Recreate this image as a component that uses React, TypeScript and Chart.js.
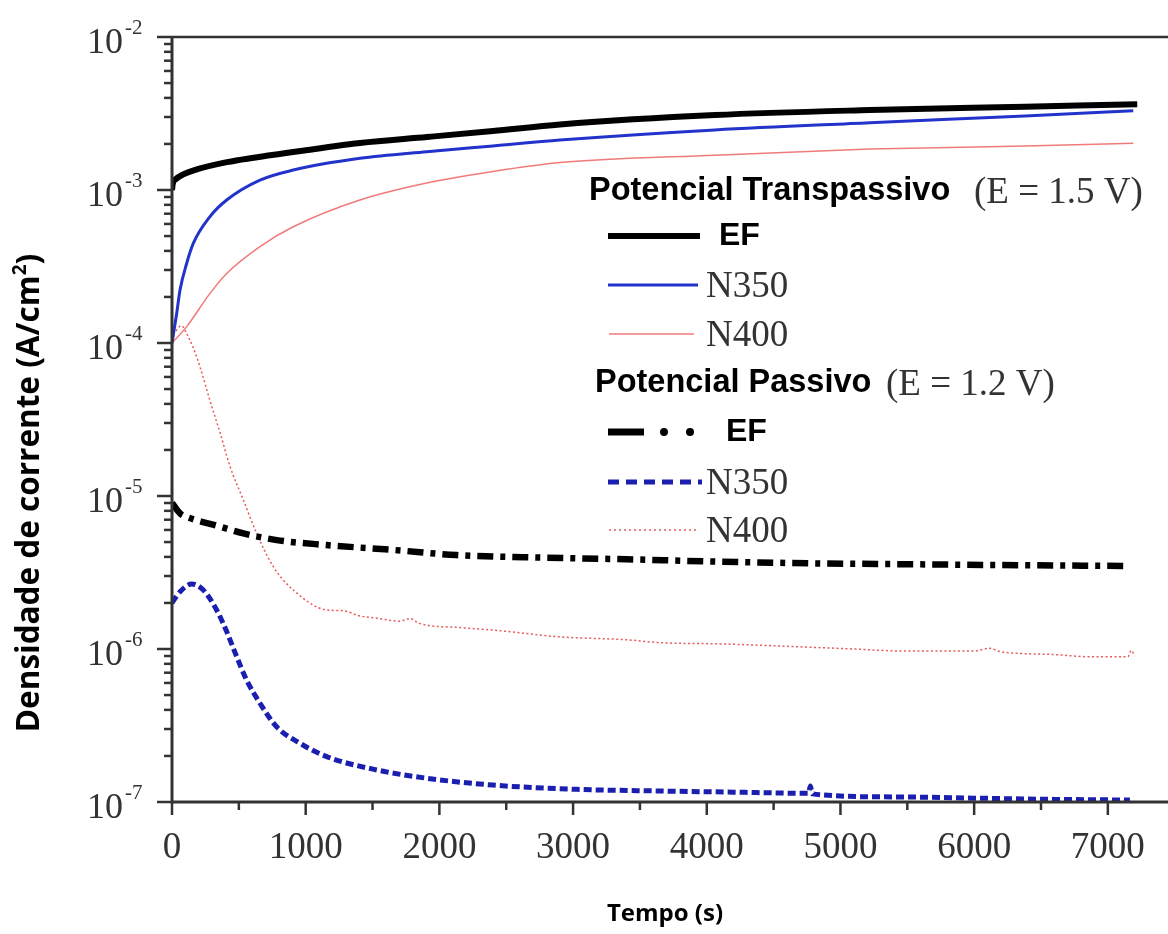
import React, { useEffect, useRef } from "react";
import { Chart, registerables } from "chart.js";

Chart.register(...registerables);

// ---- Data (time in s, current density in A/cm²) ----
const tEF_T = [0, 6, 30, 80, 157, 411, 905, 1406, 1907, 2400, 2902, 4061, 5220, 6380, 7220];
const iEF_T = [1.0e-3, 1.1e-3, 1.18e-3, 1.26e-3, 1.34e-3, 1.52e-3, 1.77e-3, 2.03e-3, 2.22e-3, 2.43e-3, 2.68e-3, 3.09e-3, 3.33e-3, 3.5e-3, 3.63e-3];

const tN350_T = [0, 35, 60, 110, 160, 284, 409, 658, 907, 1406, 1905, 2400, 2902, 4061, 5220, 6380, 7190];
const iN350_T = [1.0e-4, 1.56e-4, 2.22e-4, 3.32e-4, 4.49e-4, 6.7e-4, 8.6e-4, 1.16e-3, 1.35e-3, 1.61e-3, 1.78e-3, 1.94e-3, 2.12e-3, 2.47e-3, 2.75e-3, 3.05e-3, 3.3e-3];

const tN400_T = [0, 110, 284, 409, 658, 907, 1406, 1905, 2400, 2902, 4061, 5220, 6380, 7190];
const iN400_T = [1.0e-4, 1.28e-4, 2.11e-4, 2.85e-4, 4.27e-4, 5.75e-4, 8.6e-4, 1.11e-3, 1.32e-3, 1.51e-3, 1.69e-3, 1.85e-3, 1.94e-3, 2.02e-3];

const tEF_P = [0, 60, 110, 334, 534, 783, 1157, 1655, 2129, 2800, 3396, 4100, 4787, 5500, 6178, 7150];
const iEF_P = [9.0e-6, 7.7e-6, 7.3e-6, 6.4e-6, 5.7e-6, 5.15e-6, 4.78e-6, 4.44e-6, 4.11e-6, 3.95e-6, 3.86e-6, 3.72e-6, 3.63e-6, 3.58e-6, 3.54e-6, 3.49e-6];

const tN350_P = [0, 60, 147, 234, 334, 409, 484, 558, 658, 783, 957, 1157, 1531, 1905, 2400, 3027, 3650, 4200, 4760, 4775, 4790, 5400, 5990, 6600, 7165];
const iN350_P = [2.0e-6, 2.37e-6, 2.66e-6, 2.43e-6, 1.8e-6, 1.3e-6, 8.9e-7, 6.27e-7, 4.42e-7, 3.1e-7, 2.42e-7, 1.98e-7, 1.62e-7, 1.43e-7, 1.29e-7, 1.21e-7, 1.18e-7, 1.16e-7, 1.14e-7, 1.27e-7, 1.13e-7, 1.08e-7, 1.06e-7, 1.04e-7, 1.03e-7];

const tN400_P = [30, 70, 110, 157, 209, 284, 359, 434, 534, 633, 758, 907, 1157, 1280, 1400, 1531, 1700, 1780, 1850, 2154, 2400, 2902, 3396, 3650, 4100, 4615, 5100, 5483, 6000, 6110, 6200, 6600, 6872, 7150, 7175, 7200];
const iN400_P = [1.2e-4, 1.3e-4, 1.15e-4, 9.4e-5, 7.0e-5, 4.2e-5, 2.6e-5, 1.56e-5, 9.4e-6, 5.7e-6, 3.45e-6, 2.43e-6, 1.8e-6, 1.78e-6, 1.65e-6, 1.59e-6, 1.52e-6, 1.58e-6, 1.47e-6, 1.38e-6, 1.33e-6, 1.2e-6, 1.15e-6, 1.1e-6, 1.08e-6, 1.04e-6, 1.0e-6, 0.97e-6, 0.97e-6, 1.01e-6, 0.96e-6, 0.92e-6, 0.89e-6, 0.89e-6, 0.98e-6, 0.9e-6];

const xTickLabels = [0, 1000, 2000, 3000, 4000, 5000, 6000, 7000];
const xMinorTicks = [500, 1500, 2500, 3500, 4500, 5500, 6500];
const yTickExponents = [-7, -6, -5, -4, -3, -2];

const xTitle = "Tempo (s)";
const yTitleMain = "Densidade de corrente (A/cm";
const yTitleSup = "2";
const yTitleEnd = ")";

const header1Bold = "Potencial Transpassivo";
const header1Serif = "(E = 1.5 V)";
const header2Bold = "Potencial Passivo";
const header2Serif = "(E = 1.2 V)";

const BLACK = "#000000";
const BLUE = "#2233cc";
const BLUE_DASH = "#1a1fb0";
const RED = "#f07a7a";
const RED_DOT = "#e85a5a";
const AXIS = "#333333";
const SERIF = "'Liberation Serif', 'Times New Roman', serif";
const SANS = "'Liberation Sans', Arial, sans-serif";
const OPEN = "'Open Sans', 'Liberation Sans', sans-serif";

const pairs = (t: number[], v: number[]) => t.map((x, i) => ({ x, y: v[i] }));

function line(ctx: CanvasRenderingContext2D, x1: number, y1: number, x2: number, y2: number) {
  ctx.beginPath();
  ctx.moveTo(x1, y1);
  ctx.lineTo(x2, y2);
  ctx.stroke();
}

const axesPlugin = {
  id: "customAxes",
  afterDatasetsDraw(chart: any) {
    const { ctx, chartArea: a, scales } = chart;
    const xs = scales.x;
    const ys = scales.y;
    ctx.save();
    ctx.strokeStyle = AXIS;
    ctx.lineCap = "butt";
    // frame
    ctx.lineWidth = 2.5;
    line(ctx, a.left, a.top, a.right, a.top);
    ctx.lineWidth = 3;
    line(ctx, a.left, a.top - 1, a.left, a.bottom + 1.5);
    line(ctx, a.left, a.bottom, a.right, a.bottom);
    // y ticks
    ctx.lineWidth = 2.5;
    for (let e = -7; e <= -3; e++) {
      for (let m = 1; m <= 9; m++) {
        const py = ys.getPixelForValue(m * Math.pow(10, e));
        line(ctx, a.left - (m === 1 ? 15 : 8), py, a.left, py);
      }
    }
    const pTop = ys.getPixelForValue(1e-2);
    line(ctx, a.left - 15, pTop, a.left, pTop);
    // x ticks
    xTickLabels.forEach((t) => {
      const px = xs.getPixelForValue(t);
      line(ctx, px, a.bottom, px, a.bottom + 13);
    });
    xMinorTicks.forEach((t) => {
      const px = xs.getPixelForValue(t);
      line(ctx, px, a.bottom, px, a.bottom + 8);
    });
    // y tick labels
    ctx.fillStyle = AXIS;
    yTickExponents.forEach((e) => {
      const py = ys.getPixelForValue(Math.pow(10, e));
      ctx.font = `36px ${SERIF}`;
      ctx.textAlign = "right";
      ctx.textBaseline = "alphabetic";
      ctx.fillText("10", a.left - 49, py + 16);
      ctx.font = `21px ${SERIF}`;
      ctx.textAlign = "left";
      ctx.fillText(String(e), a.left - 47, py - 3);
    });
    // x tick labels
    ctx.font = `37px ${SERIF}`;
    ctx.textAlign = "center";
    ctx.textBaseline = "alphabetic";
    xTickLabels.forEach((t) => {
      const px = xs.getPixelForValue(t);
      ctx.fillText(String(t), px, a.bottom + 56);
    });
    // axis titles
    ctx.fillStyle = "#000";
    ctx.font = `bold 24px ${OPEN}`;
    ctx.textAlign = "center";
    ctx.textBaseline = "middle";
    ctx.fillText(xTitle, 665, 914);

    ctx.save();
    ctx.translate(30, 493);
    ctx.rotate(-Math.PI / 2);
    const mainFont = `bold 31.5px ${OPEN}`;
    const supFont = `bold 19px ${OPEN}`;
    ctx.font = mainFont;
    const w1 = ctx.measureText(yTitleMain).width;
    const w3 = ctx.measureText(yTitleEnd).width;
    ctx.font = supFont;
    const w2 = ctx.measureText(yTitleSup).width;
    const total = w1 + w2 + w3;
    const x0 = -total / 2;
    ctx.textAlign = "left";
    ctx.textBaseline = "middle";
    ctx.font = mainFont;
    ctx.fillText(yTitleMain, x0, 0);
    ctx.font = supFont;
    ctx.fillText(yTitleSup, x0 + w1, -9);
    ctx.font = mainFont;
    ctx.fillText(yTitleEnd, x0 + w1 + w2, 0);
    ctx.restore();

    ctx.restore();
  },
};

const legendPlugin = {
  id: "customLegend",
  afterDraw(chart: any) {
    const { ctx } = chart;
    ctx.save();
    ctx.textBaseline = "middle";
    ctx.textAlign = "left";

    const header = (bold: string, serif: string, x: number, y: number, serifX: number) => {
      ctx.fillStyle = "#000";
      ctx.font = `bold 32.5px ${SANS}`;
      ctx.fillText(bold, x, y);
      ctx.fillStyle = AXIS;
      ctx.font = `37px ${SERIF}`;
      ctx.fillText(serif, serifX, y + 2);
    };
    const boldLabel = (s: string, x: number, y: number) => {
      ctx.fillStyle = "#000";
      ctx.font = `bold 32px ${SANS}`;
      ctx.fillText(s, x, y);
    };
    const serifLabel = (s: string, x: number, y: number) => {
      ctx.fillStyle = AXIS;
      ctx.font = `37px ${SERIF}`;
      ctx.fillText(s, x, y + 2);
    };

    header(header1Bold, header1Serif, 589, 191, 974);

    // EF solid
    ctx.strokeStyle = BLACK;
    ctx.lineWidth = 6;
    ctx.setLineDash([]);
    line(ctx, 608, 236, 700, 236);
    boldLabel("EF", 719, 236);

    ctx.strokeStyle = BLUE;
    ctx.lineWidth = 3;
    line(ctx, 608, 285, 698, 285);
    serifLabel("N350", 706, 285);

    ctx.strokeStyle = RED;
    ctx.lineWidth = 1.5;
    line(ctx, 609, 334, 694, 334);
    serifLabel("N400", 706, 334);

    header(header2Bold, header2Serif, 595, 383, 886);

    // EF dash-dot-dot
    ctx.strokeStyle = BLACK;
    ctx.fillStyle = BLACK;
    ctx.lineWidth = 7;
    line(ctx, 608, 432, 644, 432);
    ctx.beginPath();
    ctx.arc(664, 432, 4, 0, Math.PI * 2);
    ctx.arc(690, 432, 4, 0, Math.PI * 2);
    ctx.fill();
    boldLabel("EF", 726, 432);

    ctx.strokeStyle = BLUE_DASH;
    ctx.lineWidth = 5;
    ctx.setLineDash([11, 7]);
    line(ctx, 608, 482, 702, 482);
    ctx.setLineDash([]);
    serifLabel("N350", 706, 482);

    ctx.strokeStyle = RED_DOT;
    ctx.lineWidth = 1.5;
    ctx.setLineDash([2, 3]);
    line(ctx, 609, 530, 696, 530);
    ctx.setLineDash([]);
    serifLabel("N400", 706, 530);

    ctx.restore();
  },
};

export default function App() {
  const canvasRef = useRef<HTMLCanvasElement | null>(null);

  useEffect(() => {
    if (!canvasRef.current) return;
    const common = { pointRadius: 0, fill: false, cubicInterpolationMode: "monotone" as const };
    const chart = new Chart(canvasRef.current, {
      type: "line",
      data: {
        datasets: [
          { ...common, label: "EF (1.5 V)", data: pairs(tEF_T, iEF_T), borderColor: BLACK, borderWidth: 6 },
          { ...common, label: "N350 (1.5 V)", data: pairs(tN350_T, iN350_T), borderColor: BLUE, borderWidth: 3 },
          { ...common, label: "N400 (1.5 V)", data: pairs(tN400_T, iN400_T), borderColor: RED, borderWidth: 1.5 },
          { ...common, label: "EF (1.2 V)", data: pairs(tEF_P, iEF_P), borderColor: BLACK, borderWidth: 6.5, borderDash: [16, 7, 5, 7] },
          { ...common, label: "N350 (1.2 V)", data: pairs(tN350_P, iN350_P), borderColor: BLUE_DASH, borderWidth: 5, borderDash: [8, 4] },
          { ...common, label: "N400 (1.2 V)", data: pairs(tN400_P, iN400_P), borderColor: RED_DOT, borderWidth: 1.5, borderDash: [2, 2.5] },
        ],
      },
      options: {
        animation: false,
        responsive: false,
        devicePixelRatio: 1,
        layout: { padding: { left: 172, top: 37, right: 0, bottom: 132 } },
        plugins: { legend: { display: false }, tooltip: { enabled: false }, title: { display: false } },
        scales: {
          x: { type: "linear", min: 0, max: 7450, display: false },
          y: { type: "logarithmic", min: 1e-7, max: 1e-2, display: false },
        },
      },
      plugins: [axesPlugin, legendPlugin],
    });
    return () => chart.destroy();
  }, []);

  return (
    <div style={{ position: "absolute", left: 0, top: 0, width: 1168, height: 934, background: "#fff" }}>
      <canvas ref={canvasRef} width={1168} height={934} style={{ display: "block", width: 1168, height: 934 }} />
    </div>
  );
}
